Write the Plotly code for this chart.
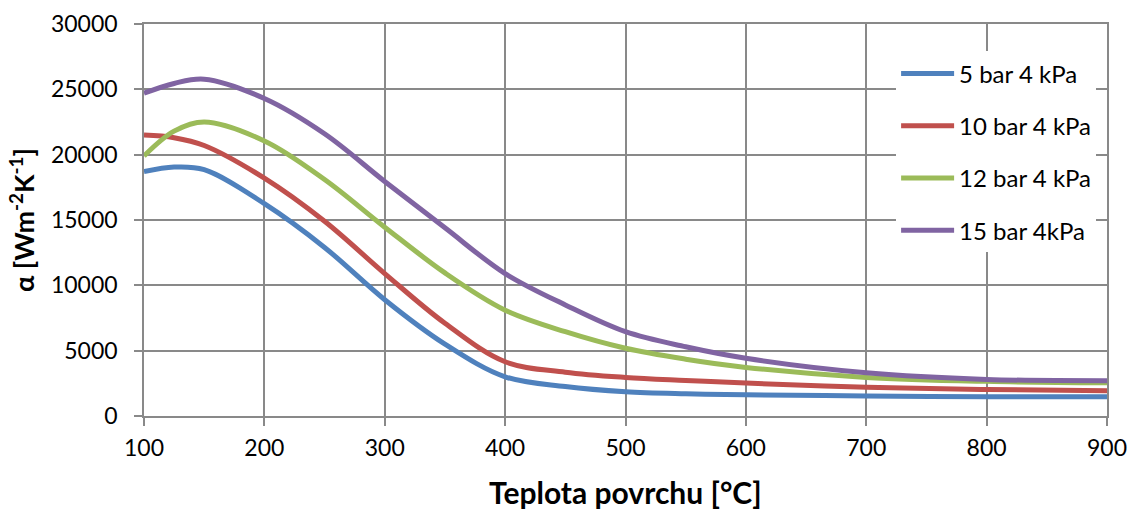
import plotly.graph_objects as go

# teplota povrchu [°C]
teplota = [100, 125, 150, 200, 250, 300, 350, 400, 450, 500, 550, 600, 700, 800, 900]

# součinitel přestupu tepla alpha [W m-2 K-1]
alpha_5bar = [18700, 19050, 18850, 16250, 12900, 8900, 5500, 3000, 2250, 1850, 1700, 1630, 1530, 1480, 1470]
alpha_10bar = [21500, 21300, 20700, 18200, 14900, 10900, 7100, 4150, 3350, 2950, 2720, 2520, 2200, 2030, 1940]
alpha_12bar = [19900, 21800, 22500, 21050, 18100, 14450, 10950, 8100, 6450, 5180, 4350, 3720, 2950, 2650, 2550]
alpha_15bar = [24700, 25450, 25780, 24300, 21600, 17950, 14400, 10900, 8500, 6450, 5300, 4420, 3310, 2800, 2700]

serie = [
    ('5 bar 4 kPa', alpha_5bar, '#4F81BD'),
    ('10 bar 4 kPa', alpha_10bar, '#C0504D'),
    ('12 bar 4 kPa', alpha_12bar, '#9BBB59'),
    ('15 bar 4kPa', alpha_15bar, '#8064A2'),
]

FONT = 'Lato, "Open Sans", sans-serif'
GRID = '#898989'

fig = go.Figure()
for i, (nazev, hodnoty, barva) in enumerate(serie):
    fig.add_trace(go.Scatter(
        x=teplota, y=hodnoty, name=nazev, mode='lines',
        line=dict(color=barva, width=5, shape='spline', smoothing=1.0),
        legendgroup=f'g{i}',
    ))

fig.update_layout(
    width=1131, height=509,
    margin=dict(l=144, r=24, t=24, b=93),
    paper_bgcolor='white', plot_bgcolor='white',
    font=dict(family=FONT, size=23, color='black'),
    showlegend=True,
    legend=dict(
        x=0.781, y=0.93, xanchor='left', yanchor='top',
        bgcolor='white', borderwidth=0,
        font=dict(family=FONT, size=24, color='black'),
        traceorder='grouped', tracegroupgap=18,
        itemwidth=53,
    ),
    annotations=[dict(
        text='<b>Teplota povrchu [°C]</b>', xref='paper', yref='paper',
        x=0.5, y=0, yshift=-76, xanchor='center', yanchor='middle',
        showarrow=False, font=dict(family=FONT, size=30),
    )],
)

fig.update_xaxes(
    range=[100, 900], tickvals=list(range(100, 1000, 100)),
    automargin=False, ticklabeloverflow='allow',
    showgrid=True, gridcolor=GRID, gridwidth=1.5,
    showline=True, linecolor=GRID, linewidth=1.5, mirror=True,
    ticks='outside', ticklen=8, tickcolor=GRID, tickwidth=1.5,
    ticklabelstandoff=3,
    zeroline=False,
)
fig.update_yaxes(
    range=[0, 30000], tickvals=list(range(0, 35000, 5000)), tickformat='d',
    automargin=False,
    showgrid=True, gridcolor=GRID, gridwidth=1.5,
    showline=True, linecolor=GRID, linewidth=1.5, mirror=True,
    ticks='outside', ticklen=8, tickcolor=GRID, tickwidth=1.5,
    ticklabelstandoff=12,
    zeroline=False,
    title=dict(text='<b>α [Wm<sup>-2</sup>K<sup>-1</sup>]</b>', font=dict(family=FONT, size=27), standoff=8),
)

# bez okraje stránky, aby graf seděl přesně do okna
fig.write_html('out.html', config={'displayModeBar': False},
               post_script="document.body.style.margin='0';document.body.style.overflow='hidden';")
